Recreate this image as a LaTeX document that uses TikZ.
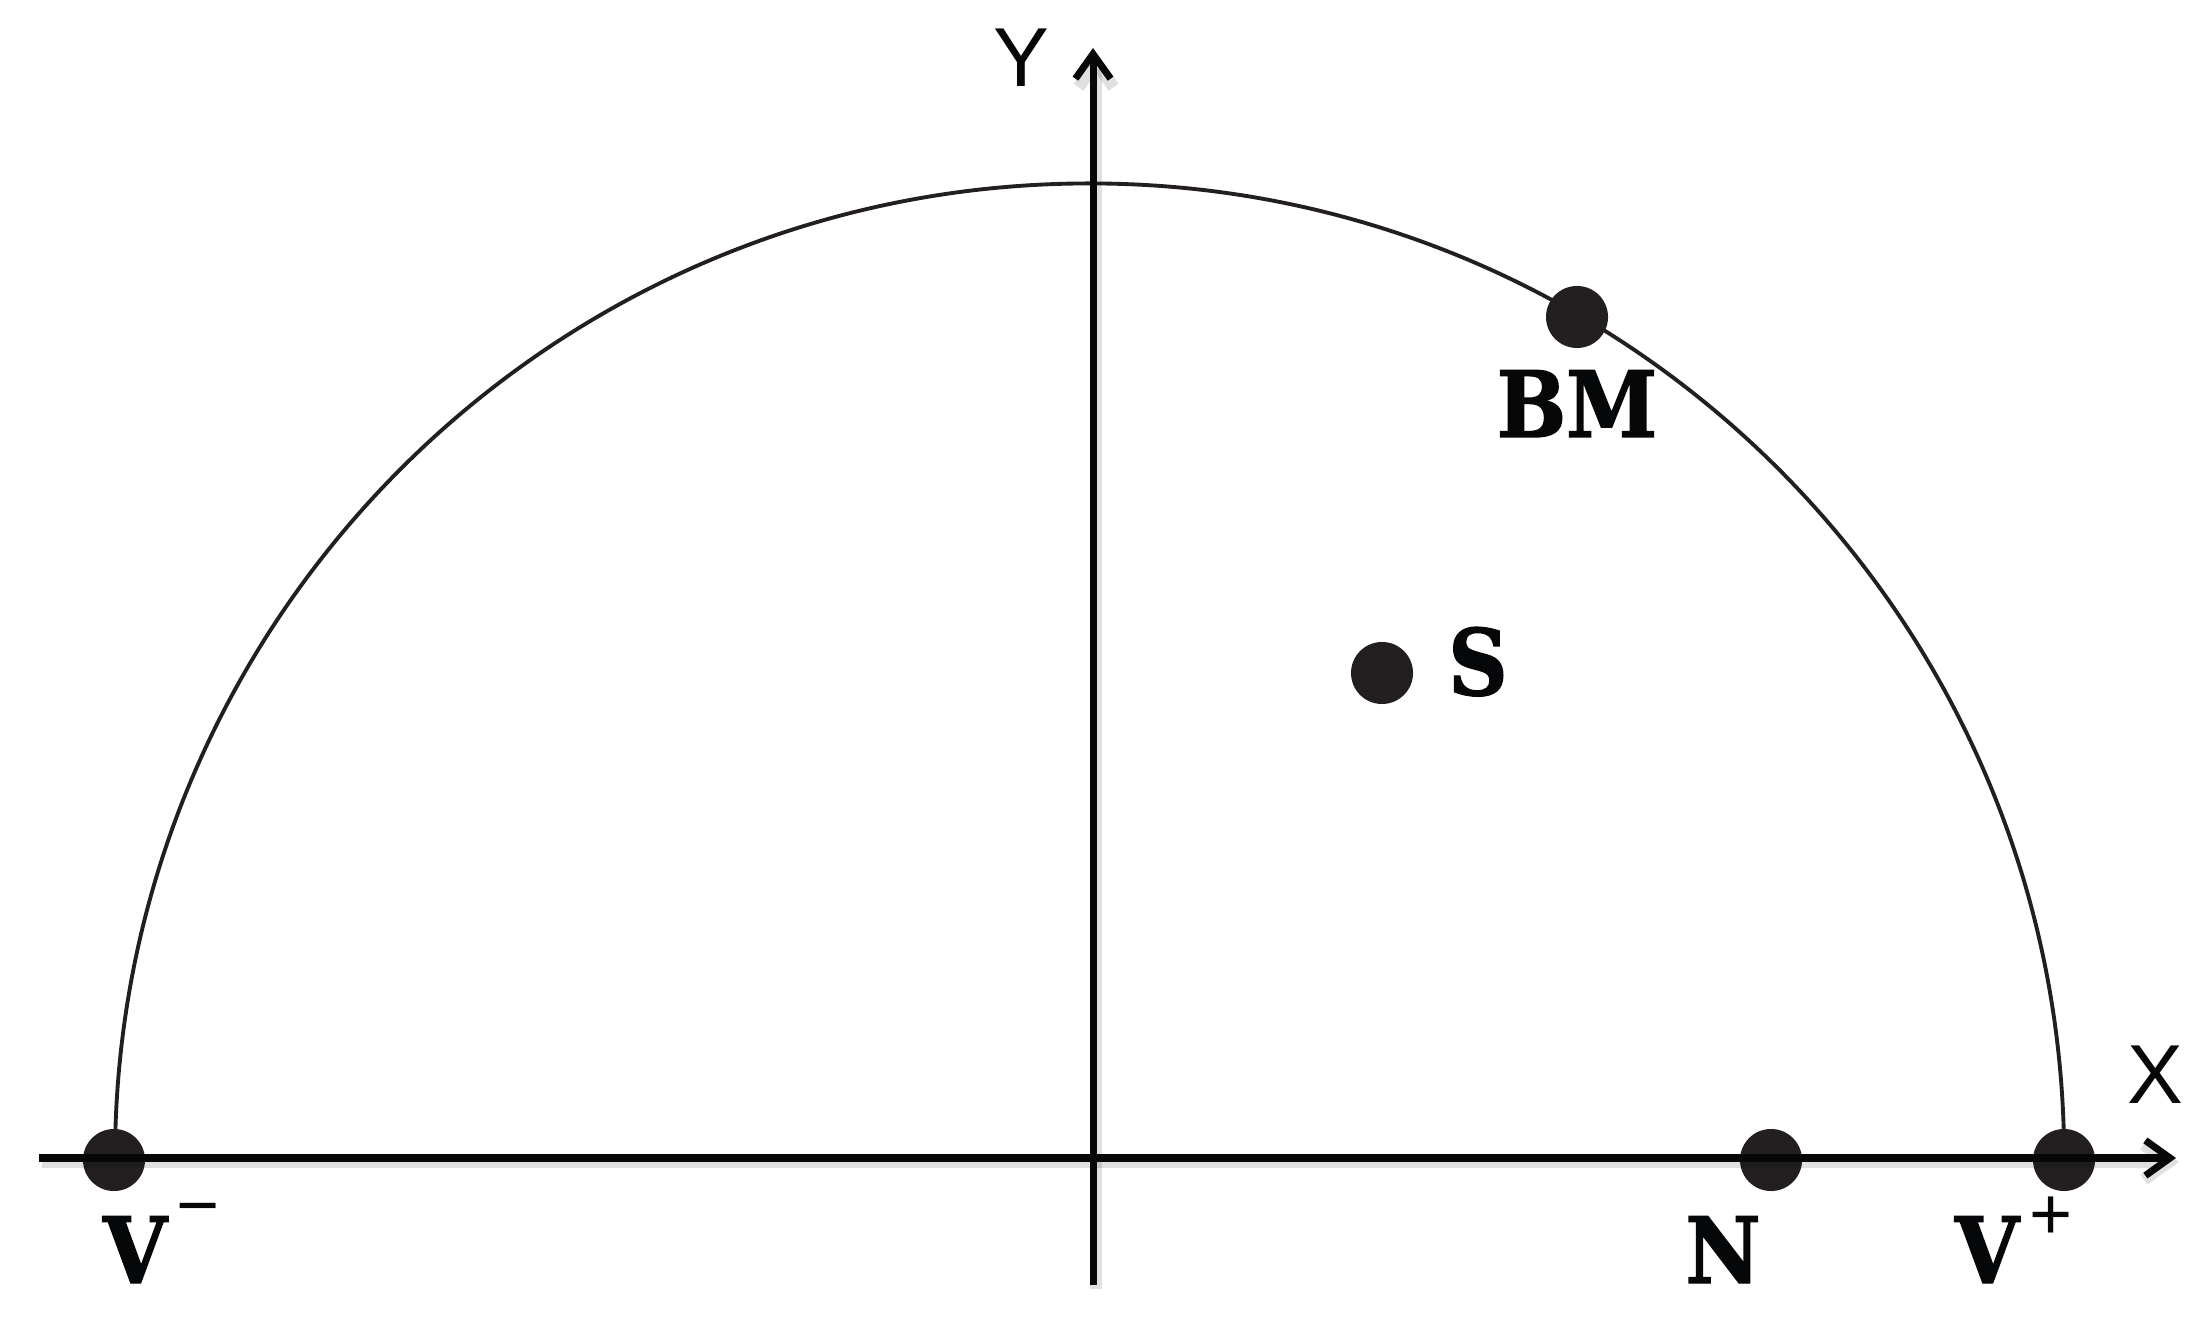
\documentclass[tikz,border=0pt]{standalone}
\usepackage{fontspec}
\usetikzlibrary{arrows.meta}
\newfontfamily\labfont{DejaVu Serif Condensed}[BoldFeatures={FakeBold=1.6}]
\newfontfamily\axfont{Liberation Sans}
\definecolor{dotc}{HTML}{231F20}
\definecolor{linec}{HTML}{050708}
\begin{document}
\begin{tikzpicture}[x=0.01cm,y=0.01cm,
  dot/.style={circle,fill=dotc,inner sep=0pt,minimum size=0.62cm},
  lab/.style={font=\labfont\bfseries\fontsize{26}{30}\selectfont,inner sep=0pt,text=linec},
  axlab/.style={font=\axfont\fontsize{23.8}{28}\selectfont,inner sep=0pt,text=linec},
  suplab/.style={font=\axfont\fontsize{21}{24}\selectfont,inner sep=0pt,text=linec},
  axisline/.style={line width=2pt,color=linec,-{Straight Barb[length=7pt,width=10pt,line width=2pt]}},
  shadowline/.style={line width=3.5pt,color=black,opacity=0.12,-{Straight Barb[length=7pt,width=10pt,line width=3.5pt]}},
  curve/.style={line width=1.1pt,color=dotc}]
\useasboundingbox (0,0) rectangle (2204,1321);
\coordinate (xs) at (39,163);
\coordinate (xe) at (2176,163);
\coordinate (ys) at (1093,36);
\coordinate (ye) at (1093,1273);
% semicircle
\draw[curve] (115,162) arc[start angle=180,end angle=0,x radius=9.74cm,y radius=9.75cm];
% dots
\node[dot] (vm) at (114,161) {};
\node[dot] (n) at (1771,161) {};
\node[dot] (vp) at (2064,161) {};
\node[dot] (s) at (1382,648) {};
\node[dot] (bm) at (1577,1004) {};
% axes shadows
\draw[shadowline] ([shift={(3,-4)}]xs) -- ([shift={(3,-4)}]xe);
\draw[shadowline] ([shift={(3,-4)}]ys) -- ([shift={(3,-4)}]ye);
% axes
\draw[axisline] (xs) -- (xe);
\draw[axisline] (ys) -- (ye);
% labels
\node[axlab,anchor=base] (ly) at (1021,1234) {Y};
\node[axlab,anchor=base] (lx) at (2155,218) {X};
\node[lab,anchor=base] (lbm) at (1577,884) {BM};
\node[lab,anchor=base] (ls) at (1478,626) {S};
\node[lab,anchor=base] (ln) at (1723,38) {N};
\node[lab,anchor=base] (lvm) at (135,38) {V};
\node[suplab] (lvmsup) at (198,104) {−};
\node[lab,anchor=base] (lvp) at (1987,38) {V};
\node[suplab] (lvpsup) at (2051,103) {+};
\end{tikzpicture}
\end{document}
